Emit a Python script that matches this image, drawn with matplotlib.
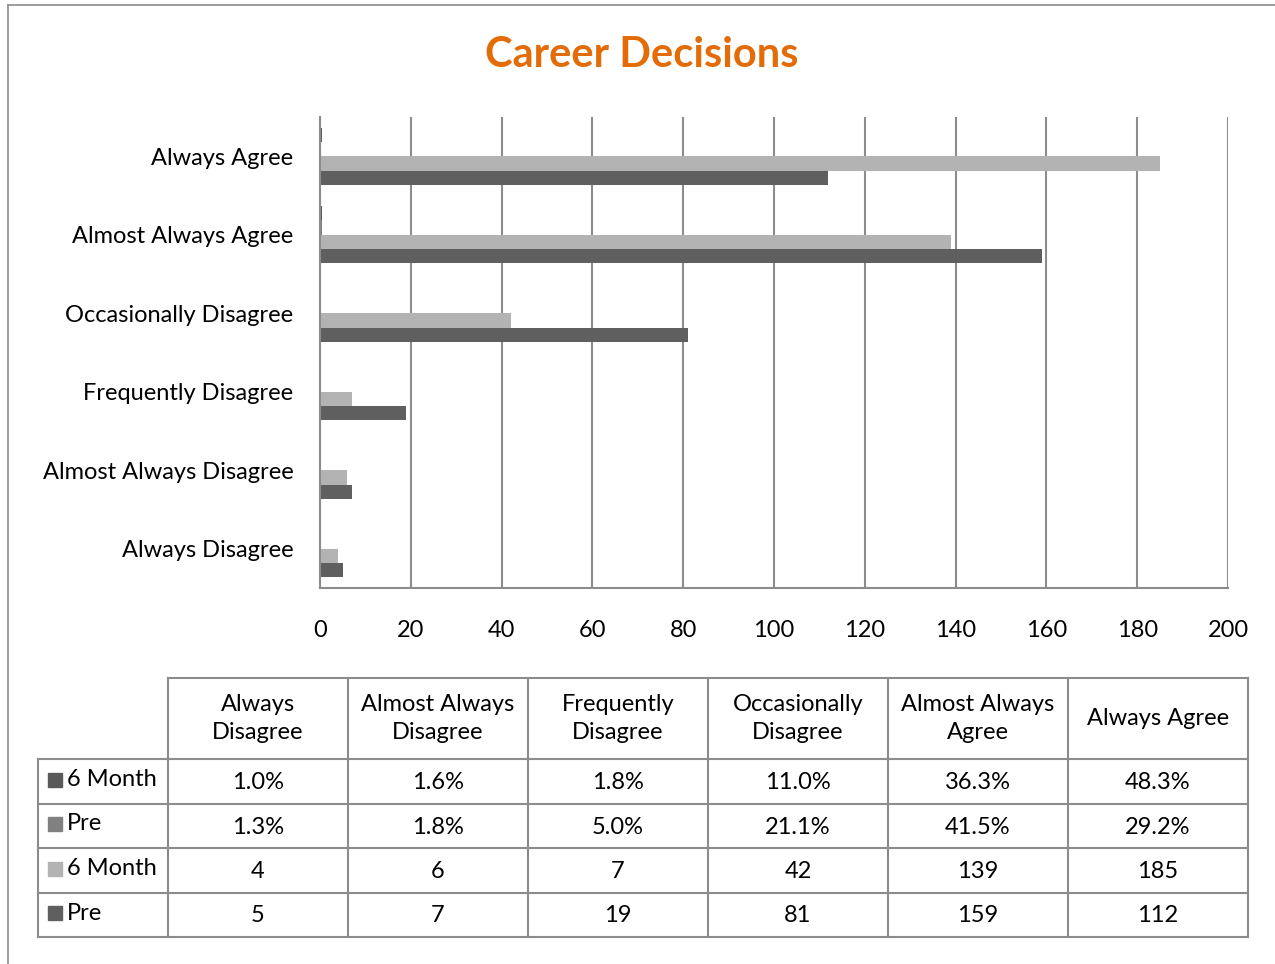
import numpy as np
import matplotlib.pyplot as plt
from matplotlib.patches import Rectangle

plt.rcParams['font.family'] = ['Lato', 'DejaVu Sans']

categories = ["Always Disagree", "Almost Always Disagree", "Frequently Disagree",
              "Occasionally Disagree", "Almost Always Agree", "Always Agree"]
header_labels = ["Always\nDisagree", "Almost Always\nDisagree", "Frequently\nDisagree",
                 "Occasionally\nDisagree", "Almost Always\nAgree", "Always Agree"]
six_month_pct = [0.010, 0.016, 0.018, 0.110, 0.363, 0.483]
pre_pct = [0.013, 0.018, 0.050, 0.211, 0.415, 0.292]
six_month_n = [4, 6, 7, 42, 139, 185]
pre_n = [5, 7, 19, 81, 159, 112]

series = [("6 Month", six_month_pct, "#595959", "pct"),
          ("Pre", pre_pct, "#808080", "pct"),
          ("6 Month", six_month_n, "#b3b3b3", "n"),
          ("Pre", pre_n, "#5f5f5f", "n")]

W, H = 1275, 964
FS = 17
fig = plt.figure(figsize=(W / 100, H / 100), dpi=100)

# overlay in pixel coordinates for frame + table
ov = fig.add_axes([0, 0, 1, 1])
ov.set_xlim(0, W)
ov.set_ylim(H, 0)
ov.axis("off")
ov.plot([8, W], [5, 5], color="#8c8c8c", lw=1.2)
ov.plot([8, 8], [5, H], color="#8c8c8c", lw=1.2)

ov.text(642, 55, "Career Decisions", ha="center", va="center", fontsize=30,
        fontweight="bold", color="#e36c09")

# bar chart
ax = fig.add_axes([320 / W, 1 - 588 / H, (1228 - 320) / W, (588 - 117) / H])
y = np.arange(len(categories))
h = 0.182
offsets = [1.5 * h, 0.5 * h, -0.5 * h, -1.5 * h]
for (name, vals, col, kind), off in zip(series, offsets):
    ax.barh(y + off, vals, height=h, color=col, zorder=3)
ax.set_xlim(0, 200)
ax.set_ylim(-0.5, len(categories) - 0.5)
ax.set_xticks(np.arange(0, 201, 20))
ax.set_yticks(y)
ax.set_yticklabels(categories, fontsize=FS)
ax.tick_params(axis="x", labelsize=FS, length=0, pad=23)
ax.tick_params(axis="y", length=0, pad=19)
ax.grid(axis="x", color="#8c8c8c", lw=1.5, zorder=0)
for s in ["top", "right"]:
    ax.spines[s].set_visible(False)
for s in ["left", "bottom"]:
    ax.spines[s].set_color("#8c8c8c")
    ax.spines[s].set_linewidth(1.5)
    ax.spines[s].set_zorder(4)

# data table
col_x = [168, 348, 528, 708, 888, 1068, 1248]
row_y = [678, 759, 804, 848, 893, 937]
left_x = 38
lc = "#8c8c8c"
ov.plot([col_x[0], col_x[-1]], [row_y[0], row_y[0]], color=lc, lw=1.5)
for yy in row_y[1:]:
    ov.plot([left_x, col_x[-1]], [yy, yy], color=lc, lw=1.5)
for xx in col_x:
    ov.plot([xx, xx], [row_y[0], row_y[-1]], color=lc, lw=1.5)
ov.plot([left_x, left_x], [row_y[1], row_y[-1]], color=lc, lw=1.5)

for j, lab in enumerate(header_labels):
    ov.text((col_x[j] + col_x[j + 1]) / 2, (row_y[0] + row_y[1]) / 2, lab,
            ha="center", va="center", fontsize=FS, linespacing=1.4)

for i, (name, vals, col, kind) in enumerate(series):
    yc = (row_y[i + 1] + row_y[i + 2]) / 2
    ov.add_patch(Rectangle((48, yc - 9), 14, 14, color=col))
    ov.text(67, yc - 2, name, ha="left", va="center", fontsize=FS)
    for j, v in enumerate(vals):
        txt = f"{v * 100:.1f}%" if kind == "pct" else f"{v}"
        ov.text((col_x[j] + col_x[j + 1]) / 2, yc + 1, txt, ha="center",
                va="center", fontsize=FS)

fig.savefig("out.png", dpi=100)
